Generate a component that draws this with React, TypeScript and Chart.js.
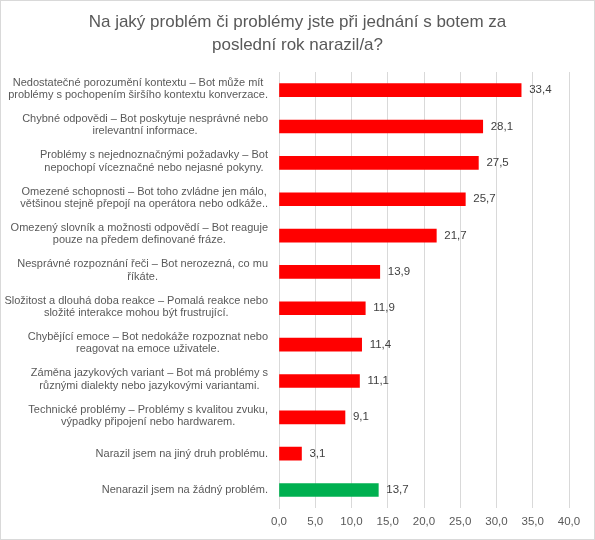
import { useEffect, useRef } from "react";
import { Chart, registerables } from "chart.js";

Chart.register(...registerables);

const titleLines = ["Na jaký problém či problémy jste při jednání s botem za", "poslední rok narazil/a?"];

const categories: string[][] = [
  ["Nedostatečné porozumění kontextu – Bot může mít", "problémy s pochopením širšího kontextu konverzace."],
  ["Chybné odpovědi – Bot poskytuje nesprávné nebo", "irelevantní informace."],
  ["Problémy s nejednoznačnými požadavky – Bot", "nepochopí víceznačné nebo nejasné pokyny."],
  ["Omezené schopnosti – Bot toho zvládne jen málo,", "většinou stejně přepojí na operátora nebo odkáže.."],
  ["Omezený slovník a možnosti odpovědí – Bot reaguje", "pouze na předem definované fráze."],
  ["Nesprávné rozpoznání řeči – Bot nerozezná, co mu", "říkáte."],
  ["Složitost a dlouhá doba reakce – Pomalá reakce nebo", "složité interakce mohou být frustrující."],
  ["Chybějící emoce – Bot nedokáže rozpoznat nebo", "reagovat na emoce uživatele."],
  ["Záměna jazykových variant – Bot má problémy s", "různými dialekty nebo jazykovými variantami."],
  ["Technické problémy – Problémy s kvalitou zvuku,", "výpadky připojení nebo hardwarem."],
  ["Narazil jsem na jiný druh problému."],
  ["Nenarazil jsem na žádný problém."],
];

const values = [33.4, 28.1, 27.5, 25.7, 21.7, 13.9, 11.9, 11.4, 11.1, 9.1, 3.1, 13.7];

const noProblemLabel = "Nenarazil jsem na žádný problém.";

const FONT = "'Liberation Sans', Arial, sans-serif";
const comma = (v: number) => v.toFixed(1).replace(".", ",");

// title centred on the whole canvas (chart.js would centre it inside the layout padding)
const titleBlock = {
  id: "titleBlock",
  afterDraw(chart: any) {
    const { ctx } = chart;
    ctx.save();
    ctx.font = `17px ${FONT}`;
    ctx.fillStyle = "#595959";
    ctx.textAlign = "center";
    ctx.textBaseline = "middle";
    titleLines.forEach((t, i) => ctx.fillText(t, chart.width / 2, 21 + i * 23));
    ctx.restore();
  },
};

// category labels: lines centred on each other, block right-aligned to the axis
const categoryLabels = {
  id: "categoryLabels",
  afterDraw(chart: any) {
    const { ctx } = chart;
    const y = chart.scales.y;
    const right = y.right - 11;
    const lineH = 12.3;
    ctx.save();
    ctx.font = `11px ${FONT}`;
    ctx.fillStyle = "#595959";
    ctx.textAlign = "center";
    ctx.textBaseline = "middle";
    categories.forEach((lines, i) => {
      const maxW = Math.max(...lines.map((l) => ctx.measureText(l).width));
      const cx = right - maxW / 2;
      const cy = y.getPixelForTick(i) - (lines.length > 1 ? 1.5 : 0);
      lines.forEach((l, j) => {
        ctx.fillText(l, cx, cy + (j - (lines.length - 1) / 2) * lineH);
      });
    });
    ctx.restore();
  },
};

const valueLabels = {
  id: "valueLabels",
  afterDatasetsDraw(chart: any) {
    const { ctx } = chart;
    const meta = chart.getDatasetMeta(0);
    ctx.save();
    ctx.font = `11.5px ${FONT}`;
    ctx.fillStyle = "#404040";
    ctx.textAlign = "left";
    ctx.textBaseline = "middle";
    meta.data.forEach((bar: any, i: number) => {
      ctx.fillText(comma(values[i]), bar.x + 8, bar.y);
    });
    ctx.restore();
  },
};

export default function App() {
  const chartRef = useRef<HTMLCanvasElement>(null);

  useEffect(() => {
    document.body.style.margin = "0";
    if (!chartRef.current) return;
    const chart = new Chart(chartRef.current, {
      type: "bar",
      data: {
        labels: categories.map((c) => c.join(" ")),
        datasets: [
          {
            data: values,
            backgroundColor: (c: any) =>
              categories[c.dataIndex]?.join(" ") === noProblemLabel ? "#00b050" : "#ff0000",
            barThickness: 13,
          },
        ],
      },
      options: {
        indexAxis: "y",
        animation: false,
        responsive: false,
        layout: { padding: { left: 0, right: 25, top: 71, bottom: 3 } },
        plugins: {
          legend: { display: false },
          tooltip: { enabled: false },
          title: { display: false },
        },
        scales: {
          x: {
            min: 0,
            max: 40,
            ticks: {
              stepSize: 5,
              color: "#595959",
              padding: 7,
              font: { family: FONT, size: 11.5 },
              callback: (v: any) => comma(Number(v)),
            },
            grid: { color: "#d9d9d9", drawTicks: false },
            border: { display: false },
          },
          y: {
            ticks: { display: false },
            grid: { display: false },
            border: { display: true, color: "#d9d9d9" },
            afterFit: (s: any) => {
              s.width = 278;
            },
          },
        },
      },
      plugins: [titleBlock, categoryLabels, valueLabels],
    } as any);
    return () => chart.destroy();
  }, []);

  return (
    <div
      style={{
        width: 595,
        height: 540,
        border: "1px solid #d9d9d9",
        boxSizing: "border-box",
        background: "#fff",
      }}
    >
      <canvas ref={chartRef} width={593} height={538} style={{ display: "block" }} />
    </div>
  );
}
